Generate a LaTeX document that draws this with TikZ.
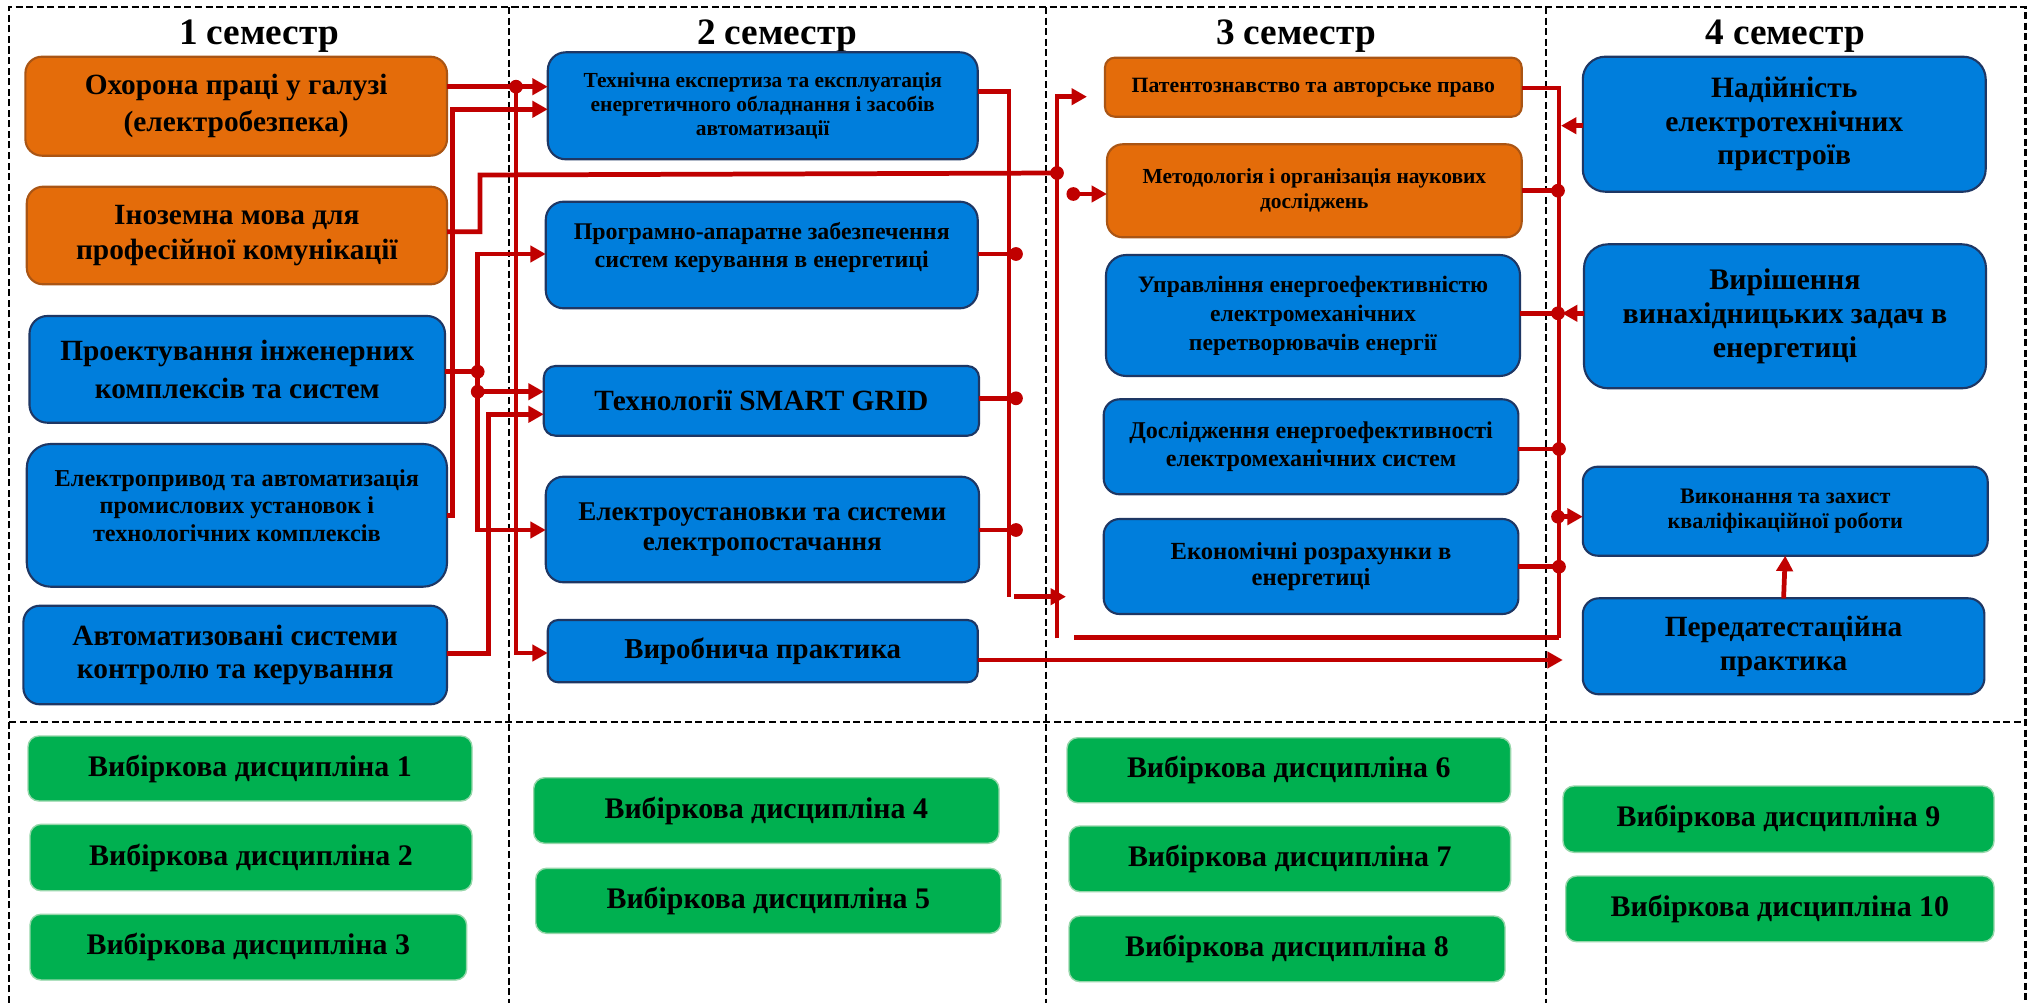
\documentclass[tikz,border=0pt]{standalone}
\usepackage{fontspec}
\setmainfont{Liberation Serif}
\usetikzlibrary{arrows.meta}

\definecolor{orf}{RGB}{228,108,10}
\definecolor{ord}{RGB}{170,85,20}
\definecolor{blf}{RGB}{0,126,220}
\definecolor{bld}{RGB}{30,55,100}
\definecolor{grf}{RGB}{0,176,80}
\definecolor{grd}{RGB}{150,215,170}
\definecolor{lnr}{RGB}{192,0,0}

\newcommand{\fs}[2]{\fontsize{#1}{#2}\selectfont\bfseries}

\tikzset{
 box/.style={rectangle, outer sep=0pt, inner sep=1pt, align=center, line width=0.6pt, text=black},
 obox/.style={box, fill=orf, draw=ord},
 bbox/.style={box, fill=blf, draw=bld},
 gbox/.style={box, fill=grf, draw=grd, line width=0.4pt, font=\fs{8.5}{10}},
 conn/.style={draw=lnr, line width=1.35pt},
 tipa/.tip={Triangle[length=4.4pt,width=4.6pt]},
 arr/.style={conn, -tipa},
 dot/.style={fill=lnr},
 frame/.style={draw=black, line width=0.6pt, dash pattern=on 2pt off 1pt},
 head/.style={font=\fs{10.6}{12}, anchor=base},
}

\newcommand{\pbox}[7]{%
 \pgfmathsetmacro\pbW{#5-#3}\pgfmathsetmacro\pbH{#6-#4}\pgfmathsetmacro\pbR{min(\pbW,\pbH)*0.1667*0.01}%
 \node[#2, minimum width=\pbW*0.01cm, minimum height=\pbH*0.01cm, rounded corners=\pbR cm] (#1) at ({(#3+#5)/2},{(#4+#6)/2}) {#7};}

\begin{document}
\begin{tikzpicture}[x=0.01cm, y=-0.01cm]
\useasboundingbox (0,0) rectangle (2029,1003);
\fill[white] (0,0) rectangle (2029,1003);

% frame
\draw[frame] (9.4,1003) -- (9.4,7) -- (2025.5,7) -- (2025.5,1003);
\draw[frame] (509,7) -- (509,1003);
\draw[frame] (1046,7) -- (1046,1003);
\draw[frame] (1546,7) -- (1546,1003);
\draw[frame] (9.4,722) -- (2025.5,722);

% headers
\node[head] (h1) at (259,44.5) {1 семестр};
\node[head] (h2) at (777,44.5) {2 семестр};
\node[head] (h3) at (1296,44.5) {3 семестр};
\node[head] (h4) at (1785,44.5) {4 семестр};

% column 1
\pbox{ohor}{obox,font=\fs{8.35}{10.4}}{25.4}{56.7}{447}{155.7}{Охорона праці у галузі\\(електробезпека)}
\pbox{inoz}{obox,font=\fs{8.35}{10.2}}{26.8}{186.7}{447}{284.3}{Іноземна мова для\\професійної комунікації}
\pbox{proek}{bbox,font=\fs{8.35}{10.9}}{29.5}{316}{445}{422.7}{Проектування інженерних\\комплексів та систем}
\pbox{elpr}{bbox}{26.8}{444}{447}{586.7}{}
\node[font=\fs{6.9}{7.8}, align=center] (elprt) at (236.9,505.4) {Електропривод та автоматизація\\промислових установок і\\технологічних комплексів};
\pbox{avt}{bbox,font=\fs{8.35}{9.5}}{23.4}{605.7}{447}{704.3}{Автоматизовані системи\\контролю та керування}

% column 2
\pbox{tech}{bbox,font=\fs{6.1}{6.75}}{547.8}{52.3}{977.7}{159.3}{Технічна експертиза та експлуатація\\енергетичного обладнання і засобів\\автоматизації}
\pbox{prog}{bbox}{545.8}{201.7}{977.7}{308.3}{}
\node[font=\fs{6.8}{8.1}, align=center] (progt) at (761.75,247.5) {Програмно-апаратне забезпечення\\систем керування в енергетиці};
\pbox{smart}{bbox,font=\fs{8.35}{10}}{543.8}{366}{979}{435.7}{Технології SMART GRID}
\pbox{elust}{bbox,font=\fs{7.7}{8.5}}{545.8}{476.7}{979}{582.3}{Електроустановки та системи\\електропостачання}
\pbox{vyrob}{bbox,font=\fs{8.2}{10}}{547.8}{620}{977.7}{682.3}{Виробнича практика}

% column 3
\pbox{pat}{obox,font=\fs{6.2}{7}}{1105}{57.7}{1521.7}{116.7}{Патентознавство та авторське право}
\pbox{meth}{obox,font=\fs{6.1}{7.1}}{1107}{144.3}{1521.7}{237.3}{Методологія і організація наукових\\досліджень}
\pbox{upr}{bbox,font=\fs{6.7}{8.2}}{1106}{255}{1520}{376}{Управління енергоефективністю\\електромеханічних\\перетворювачів енергії}
\pbox{dosl}{bbox,font=\fs{6.85}{8}}{1103.7}{399.3}{1518.4}{494.3}{Дослідження енергоефективності\\електромеханічних систем}
\pbox{ekon}{bbox,font=\fs{7}{7.6}}{1103.7}{519}{1518.4}{614}{Економічні розрахунки в\\енергетиці}

% column 4
\pbox{nad}{bbox,font=\fs{8.4}{9.5}}{1582.8}{56.7}{1985.7}{191.7}{Надійність\\електротехнічних\\пристроїв}
\pbox{vyr}{bbox,font=\fs{8.5}{9.6}}{1584}{244.3}{1986}{388.3}{Вирішення\\винахідницьких задач в\\енергетиці}
\pbox{vykon}{bbox,font=\fs{6.3}{7.3}}{1582.8}{466.7}{1987.7}{555.7}{Виконання та захист\\кваліфікаційної роботи}
\pbox{pered}{bbox,font=\fs{8.35}{9.5}}{1582.8}{598.3}{1984.4}{694.3}{Передатестаційна\\практика}

% electives
\pbox{vd1}{gbox}{28}{736}{472}{801}{Вибіркова дисципліна 1}
\pbox{vd2}{gbox}{30}{824.3}{472}{890.7}{Вибіркова дисципліна 2}
\pbox{vd3}{gbox}{30}{914.3}{466.7}{980}{Вибіркова дисципліна 3}
\pbox{vd4}{gbox}{533.7}{777.7}{999}{843.3}{Вибіркова дисципліна 4}
\pbox{vd5}{gbox}{535.7}{868.3}{1001}{933.3}{Вибіркова дисципліна 5}
\pbox{vd6}{gbox}{1067}{737.7}{1510.6}{802.7}{Вибіркова дисципліна 6}
\pbox{vd7}{gbox}{1069}{826}{1510.6}{891.7}{Вибіркова дисципліна 7}
\pbox{vd8}{gbox}{1069}{916}{1505}{981.7}{Вибіркова дисципліна 8}
\pbox{vd9}{gbox}{1563}{786}{1994}{852.3}{Вибіркова дисципліна 9}
\pbox{vd10}{gbox}{1565.7}{876}{1994}{941.7}{Вибіркова дисципліна 10}

% junction coordinates
\coordinate (ja) at (516,86.7);
\coordinate (jb) at (477.7,371.7);
\coordinate (jc) at (477.7,391.7);
\coordinate (jd) at (1057,173);
\coordinate (je) at (1073.3,194);
\coordinate (jf) at (1558,516.7);

% column 1 -> column 2
\draw[arr] (ohor.east |- ja) -- (tech.west |- ja);
\draw[arr] (ja) -- (516,653) -- (vyrob.west |- 0,653);
\draw[arr] (elpr.east |- 0,515.7) -- (452.7,515.7) -- (452.7,109.3) -- (tech.west |- 0,109.3);
\draw[conn] (inoz.east |- 0,231.7) -- (480,231.7) -- (480,175) -- (jd);
\draw[conn] (proek.east |- jb) -- (jb);
\draw[conn, tipa-tipa] (prog.west |- 0,254) -- (477.7,254) -- (477.7,530) -- (elust.west |- 0,530);
\draw[arr] (jc) -- (smart.west |- jc);
\draw[arr] (avt.east |- 0,653.3) -- (488.3,653.3) -- (488.3,414.3) -- (smart.west |- 0,414.3);

% column 2 bus
\draw[conn] (tech.east |- 0,91.7) -- (1009,91.7) -- (1009,596.7);
\draw[conn] (prog.east |- 0,254) -- (1016,254);
\draw[conn] (smart.east |- 0,398.3) -- (1016,398.3);
\draw[conn] (elust.east |- 0,530) -- (1016,530);
\draw[arr] (1014,596.7) -- (1066,596.7);

% column 3 bus
\draw[arr, shorten >=0.18cm] (1057,638.3) -- (1057,96.7) -- (pat.west |- 0,96.7);
\draw[arr] (je) -- (meth.west |- je);
\draw[conn] (1074,637.7) -- (1559,637.7);

% column 4 bus
\draw[conn] (pat.east |- 0,88) -- (1559,88) -- (1559,638);
\draw[arr] (nad.west |- 0,125.7) -- (1561,125.7);
\draw[conn] (meth.east |- 0,190.7) -- (1558,190.7);
\draw[conn] (upr.east |- 0,313.3) -- (1558,313.3);
\draw[arr] (vyr.west |- 0,313.3) -- (1562,313.3);
\draw[conn] (dosl.east |- 0,449) -- (1559,449);
\draw[arr] (jf) -- (vykon.west |- jf);
\draw[conn] (ekon.east |- 0,566.7) -- (1559,566.7);
\draw[arr, shorten >=0.2cm] (vyrob.east |- 0,660) -- (pered.west |- 0,660);
\draw[arr] (pered.north) -- (vykon.south);

% dots
\foreach \p in {(ja),(jb),(jc),(jd),(je),(jf),(1016,254),(1016,398.3),(1016,530),(1558,190.7),(1558,313.3),(1559,449),(1559,566.7)}
  \fill[dot] \p circle (1.95pt);
\end{tikzpicture}
\end{document}
